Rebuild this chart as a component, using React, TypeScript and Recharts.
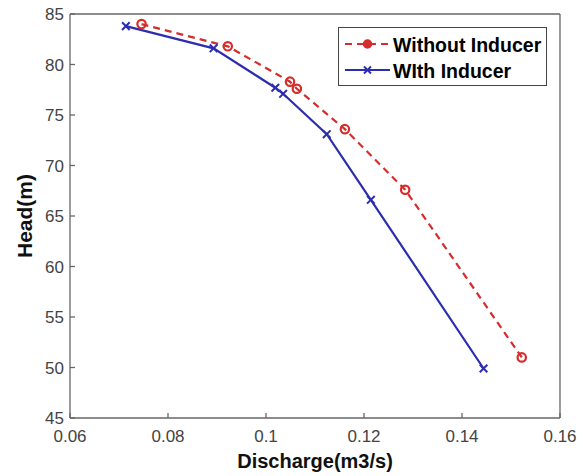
import {
  LineChart,
  Line,
  XAxis,
  YAxis,
  Legend,
  Label,
} from "recharts";

const withoutDischarge = [0.0746, 0.0922, 0.1049, 0.1063, 0.1161, 0.1284, 0.1522];
const withoutHead = [84.0, 81.8, 78.3, 77.6, 73.6, 67.6, 51.0];

const withDischarge = [0.0714, 0.0893, 0.1019, 0.1035, 0.1124, 0.1214, 0.1444];
const withHead = [83.8, 81.6, 77.7, 77.1, 73.1, 66.6, 49.9];

const xTicks = [0.06, 0.08, 0.1, 0.12, 0.14, 0.16];
const yTicks = [45, 50, 55, 60, 65, 70, 75, 80, 85];

const RED = "#d62c2c";
const BLUE = "#2d2db0";
const AXIS = "#666";
const FONT = '"Liberation Sans", Arial, sans-serif';

const withoutData = withoutDischarge.map((q, i) => ({ q, head: withoutHead[i] }));
const withData = withDischarge.map((q, i) => ({ q, head: withHead[i] }));

function CircleDot(props: any) {
  const { cx, cy } = props;
  if (cx == null || cy == null) return null;
  return <circle cx={cx} cy={cy} r={4.2} fill="none" stroke={RED} strokeWidth={2.2} />;
}

function CrossDot(props: any) {
  const { cx, cy } = props;
  if (cx == null || cy == null) return null;
  const s = 3.8;
  return (
    <g stroke={BLUE} strokeWidth={2}>
      <line x1={cx - s} y1={cy - s} x2={cx + s} y2={cy + s} />
      <line x1={cx - s} y1={cy + s} x2={cx + s} y2={cy - s} />
    </g>
  );
}

function LegendBox() {
  return (
    <svg width={209} height={59} style={{ display: "block", background: "#fff" }}>
      <rect x={0.5} y={0.5} width={208} height={58} fill="#fff" stroke="#444" strokeWidth={1} />
      <line x1={7} y1={17} x2={52} y2={17} stroke={RED} strokeWidth={2.2} strokeDasharray="7 5" />
      <circle cx={29.5} cy={17} r={4} fill={RED} stroke={RED} strokeWidth={1.5} />
      <text x={55} y={25} fontFamily={FONT} fontWeight="bold" fontSize={19.5} fill="#000">
        Without Inducer
      </text>
      <line x1={7} y1={43} x2={52} y2={43} stroke={BLUE} strokeWidth={2.2} />
      <g stroke={BLUE} strokeWidth={2}>
        <line x1={26} y1={39.5} x2={33} y2={46.5} />
        <line x1={26} y1={46.5} x2={33} y2={39.5} />
      </g>
      <text x={55} y={51} fontFamily={FONT} fontWeight="bold" fontSize={19.5} fill="#000">
        WIth Inducer
      </text>
    </svg>
  );
}

const tickStyle = { fontSize: 17, fill: "#444", fontFamily: FONT };

export default function App() {
  return (
    <div style={{ position: "absolute", left: 0, top: 0, background: "#fff" }}>
      <LineChart width={583} height={476} margin={{ top: 13, right: 22, bottom: 0, left: 0 }}>
        <XAxis
          xAxisId="bottom"
          dataKey="q"
          type="number"
          domain={[0.06, 0.16]}
          ticks={xTicks}
          allowDataOverflow
          height={58}
          tickSize={-5}
          tickMargin={17}
          tick={tickStyle}
          tickFormatter={(v: number) => String(v)}
          stroke={AXIS}
          strokeWidth={1.3}
        >
          <Label
            value="Discharge(m3/s)"
            position="insideBottom"
            offset={8}
            style={{ fontSize: 20, fontWeight: "bold", fill: "#111", fontFamily: FONT }}
          />
        </XAxis>
        <XAxis
          xAxisId="top"
          orientation="top"
          type="number"
          domain={[0.06, 0.16]}
          ticks={xTicks}
          allowDataOverflow
          height={1}
          tickSize={-5}
          tick={false}
          stroke={AXIS}
          strokeWidth={1.3}
        />
        <YAxis
          yAxisId="left"
          type="number"
          domain={[45, 85]}
          ticks={yTicks}
          allowDataOverflow
          width={70}
          tickSize={-5}
          tickMargin={11}
          tick={tickStyle}
          stroke={AXIS}
          strokeWidth={1.3}
        >
          <Label
            value="Head(m)"
            angle={-90}
            position="insideLeft"
            offset={25}
            style={{ fontSize: 21, fontWeight: "bold", fill: "#111", fontFamily: FONT, textAnchor: "middle" }}
          />
        </YAxis>
        <YAxis
          yAxisId="right"
          orientation="right"
          type="number"
          domain={[45, 85]}
          ticks={yTicks}
          allowDataOverflow
          width={1}
          tickSize={-5}
          tick={false}
          stroke={AXIS}
          strokeWidth={1.3}
        />
        <Legend
          layout="vertical"
          align="center"
          verticalAlign="middle"
          wrapperStyle={{ top: 27, left: 338, width: 209 }}
          content={() => <LegendBox />}
        />
        <Line
          xAxisId="bottom"
          yAxisId="left"
          data={withoutData}
          dataKey="head"
          name="Without Inducer"
          stroke={RED}
          strokeWidth={2.2}
          strokeDasharray="7 5"
          dot={<CircleDot />}
          activeDot={false}
          isAnimationActive={false}
        />
        <Line
          xAxisId="bottom"
          yAxisId="left"
          data={withData}
          dataKey="head"
          name="WIth Inducer"
          stroke={BLUE}
          strokeWidth={2.2}
          dot={<CrossDot />}
          activeDot={false}
          isAnimationActive={false}
        />
      </LineChart>
    </div>
  );
}
